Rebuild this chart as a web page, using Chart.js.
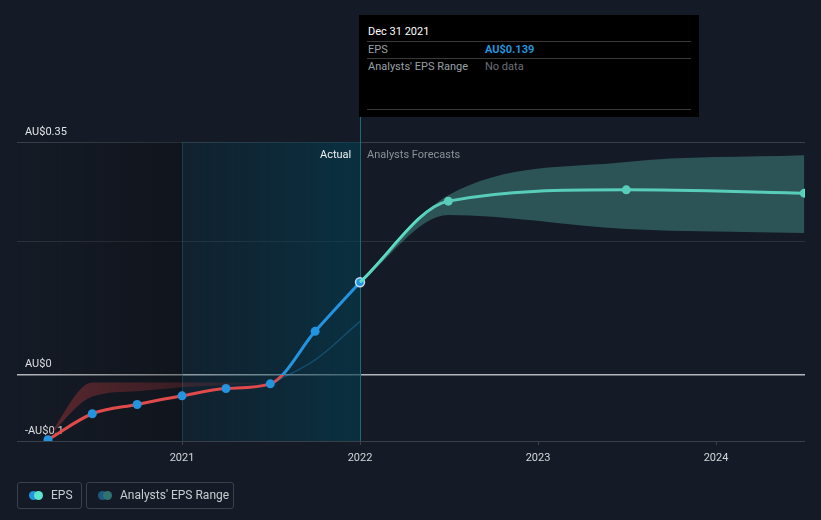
<!DOCTYPE html>
<html>
<head>
<meta charset="utf-8">
<script src="https://cdn.jsdelivr.net/npm/chart.js@4.4.1/dist/chart.umd.min.js"></script>
<style>
html,body{margin:0;padding:0;background:#151b26;width:821px;height:520px;overflow:hidden;font-family:Roboto,"Noto Sans",sans-serif;}
#wrap{position:relative;width:821px;height:520px;}
#c{position:absolute;left:0;top:0;}
.tt{position:absolute;background:#000;width:340px;height:102px;}
.tt div{position:absolute;font-size:11px;line-height:14px;white-space:nowrap;}
.tt .sep{height:1px;background:#3a3a3a;left:8px;width:324px;}
.lbl{position:absolute;font-size:11px;line-height:14px;white-space:nowrap;}
.leg{position:absolute;top:482px;height:25px;border:1px solid #3b414c;border-radius:3px;box-sizing:content-box;}
.leg span.t{position:absolute;top:5px;font-size:12px;line-height:15px;color:#c8ccd1;white-space:nowrap;}
.dot{position:absolute;top:8px;width:9px;height:9px;border-radius:50%;}
</style>
</head>
<body>
<div id="wrap">
<canvas id="c" width="821" height="520"></canvas>
<div class="tt" id="tt">
  <div style="left:9px;top:10px;color:#ffffff;">Dec 31 2021</div>
  <div class="sep" style="top:26px;"></div>
  <div style="left:9px;top:28px;color:#9aa0a7;">EPS</div>
  <div id="ttv" style="left:126px;top:28px;color:#2394df;font-weight:bold;">AU$0.139</div>
  <div class="sep" style="top:43px;"></div>
  <div style="left:9px;top:45px;color:#9aa0a7;">Analysts' EPS Range</div>
  <div style="left:126px;top:45px;color:#6b7077;">No data</div>
  <div class="sep" style="top:94px;"></div>
</div>
<div class="lbl" id="lblActual" style="color:#eef0f2;">Actual</div>
<div class="lbl" id="lblFc" style="color:#8c9198;">Analysts Forecasts</div>
<div class="leg" style="left:17px;width:63px;">
  <span class="dot" style="left:11px;background:#2394df;"></span>
  <span class="dot" style="left:16px;background:#5ee6cc;"></span>
  <span class="t" style="left:33px;">EPS</span>
</div>
<div class="leg" style="left:86px;width:146px;">
  <span class="dot" style="left:11px;background:#1e5a84;"></span>
  <span class="dot" style="left:16px;background:#2f7470;"></span>
  <span class="t" style="left:33px;">Analysts' EPS Range</span>
</div>
</div>
<script>
// ---- data (x values are decimal years) ----
const actualDates   = [2020.247, 2020.496, 2020.748, 2021.0, 2021.247, 2021.496, 2021.748, 2022.0];
const epsActual     = [-0.098, -0.059, -0.045, -0.032, -0.021, -0.014, 0.065, 0.139];
const forecastDates = [2022.0, 2022.496, 2023.496, 2024.496];
const epsForecast   = [0.139, 0.261, 0.278, 0.273];
const rangeHigh     = [0.139, 0.270, 0.320, 0.330];
const rangeLow      = [0.139, 0.240, 0.219, 0.213];
const pastRangeDates = [2020.247, 2020.496, 2020.748, 2021.0, 2021.247, 2021.496];
const pastRangeHigh  = [-0.094, -0.012, -0.012, -0.012, -0.012, -0.013];
const pastRangeLow   = [-0.094, -0.033, -0.025, -0.019, -0.016, -0.014];
const pastPosDates   = [2021.496, 2021.748, 2022.0];
const pastPosLow     = [-0.014, 0.022, 0.080];
const yearTicks  = [2021, 2022, 2023, 2024];
const yTickVals  = [-0.1, 0, 0.2, 0.35];
const yTickLabels = ['-AU$0.1', 'AU$0', '', 'AU$0.35'];
const xMin = 2020.073, xMax = 2024.5, yMin = -0.1, yMax = 0.35;
const splitDate = 2022.0, pastStart = 2021.0;

const BLUE = '#2394df', RED = '#e04a4a', TEAL = '#5ee6cc';
const pts = (xs, ys) => xs.map((x, i) => ({x, y: ys[i]}));

const bgPlugin = {
  id: 'bg',
  beforeDatasetsDraw(chart) {
    const {ctx, chartArea: a, scales: {x}} = chart;
    const x1 = x.getPixelForValue(pastStart), x2 = x.getPixelForValue(splitDate);
    ctx.save();
    let g = ctx.createLinearGradient(a.left, 0, x1, 0);
    g.addColorStop(0, 'rgba(8,10,14,0)');
    g.addColorStop(1, 'rgba(8,10,14,0.35)');
    ctx.fillStyle = g;
    ctx.fillRect(a.left, a.top, x1 - a.left, a.bottom - a.top);
    g = ctx.createLinearGradient(x1, 0, x2, 0);
    g.addColorStop(0, 'rgba(4,58,80,0.2)');
    g.addColorStop(1, 'rgba(4,60,78,0.65)');
    ctx.fillStyle = g;
    ctx.fillRect(x1, a.top, x2 - x1, a.bottom - a.top);
    ctx.fillStyle = 'rgba(30,90,110,0.55)';
    ctx.fillRect(Math.round(x1), a.top, 1, a.bottom - a.top);
    ctx.fillStyle = '#1b6a80';
    ctx.fillRect(Math.round(x2), 15, 1, a.bottom - 15);
    ctx.restore();
  }
};

const posNegColor = (ctx) => {
  const c = ctx.chart; const a = c.chartArea;
  if (!a) return RED;
  const y0 = c.scales.y.getPixelForValue(0);
  const g = c.ctx.createLinearGradient(0, a.top, 0, a.bottom);
  const s = Math.min(1, Math.max(0, (y0 - a.top) / (a.bottom - a.top)));
  g.addColorStop(0, BLUE); g.addColorStop(s, BLUE);
  g.addColorStop(s, RED); g.addColorStop(1, RED);
  return g;
};
const pastFill = (ctx) => {
  const c = ctx.chart; if (!c.chartArea) return 'rgba(200,60,60,0.3)';
  const xs = c.scales.x;
  const g = c.ctx.createLinearGradient(xs.getPixelForValue(pastRangeDates[0]), 0, xs.getPixelForValue(pastRangeDates[pastRangeDates.length - 1]), 0);
  g.addColorStop(0, 'rgba(200,60,60,0.38)');
  g.addColorStop(0.6, 'rgba(200,60,60,0.22)');
  g.addColorStop(1, 'rgba(200,60,60,0.06)');
  return g;
};

const chart = new Chart(document.getElementById('c'), {
  type: 'line',
  data: {
    datasets: [
      { data: pts(pastRangeDates, pastRangeHigh), borderWidth: 0, pointRadius: 0, fill: false, cubicInterpolationMode: 'monotone' },
      { data: pts(pastRangeDates, pastRangeLow), borderWidth: 0, pointRadius: 0, fill: '-1', backgroundColor: pastFill, cubicInterpolationMode: 'monotone' },
      { data: pts(forecastDates, rangeHigh), borderWidth: 0, pointRadius: 0, fill: false, cubicInterpolationMode: 'monotone' },
      { data: pts(forecastDates, rangeLow), borderWidth: 0, pointRadius: 0, fill: '-1', backgroundColor: 'rgba(80,170,160,0.4)', cubicInterpolationMode: 'monotone' },
      { data: pts(pastPosDates, pastPosLow), borderWidth: 1.5, borderColor: 'rgba(35,148,223,0.3)', pointRadius: 0, fill: false, cubicInterpolationMode: 'monotone' },
      { data: pts(forecastDates, epsForecast), borderWidth: 3, borderColor: TEAL, fill: false,
        pointRadius: forecastDates.map((d, i) => i === 0 ? 0 : 4.5), pointBackgroundColor: TEAL, pointBorderWidth: 0,
        cubicInterpolationMode: 'monotone' },
      { data: pts(actualDates, epsActual), borderWidth: 3, borderColor: posNegColor, fill: false,
        pointRadius: 4.5, pointBackgroundColor: BLUE,
        pointBorderColor: actualDates.map((d, i) => i === actualDates.length - 1 ? 'rgba(230,240,250,0.85)' : BLUE),
        pointBorderWidth: actualDates.map((d, i) => i === actualDates.length - 1 ? 1.5 : 0),
        cubicInterpolationMode: 'monotone' }
    ]
  },
  options: {
    responsive: false, animation: false, devicePixelRatio: 1,
    layout: { padding: { left: 17, right: 16, top: 142, bottom: 57 } },
    plugins: { legend: { display: false }, tooltip: { enabled: false } },
    scales: {
      x: {
        type: 'linear', min: xMin, max: xMax,
        afterBuildTicks: s => { s.ticks = yearTicks.map(v => ({value: v})); },
        afterFit: s => { s.height = 22; },
        ticks: { autoSkip: false, maxRotation: 0, color: '#d4d7db', padding: 7, font: { family: 'Roboto', size: 11 }, callback: v => String(v) },
        grid: { drawOnChartArea: false, drawTicks: true, tickLength: 4, color: '#3a404a' },
        border: { display: false }
      },
      y: {
        type: 'linear', min: yMin, max: yMax,
        afterBuildTicks: s => { s.ticks = yTickVals.map(v => ({value: v})); },
        afterFit: s => { s.width = 0; },
        ticks: { mirror: true, padding: 8, labelOffset: -10, color: '#e2e5e8', font: { family: 'Roboto', size: 11 },
          callback: (v) => { const i = yTickVals.findIndex(t => Math.abs(t - v) < 1e-9); return i >= 0 ? yTickLabels[i] : ''; } },
        grid: { drawTicks: false,
          color: c => (c.tick && Math.abs(c.tick.value) < 1e-9) ? '#b3b6bb' : (c.tick && Math.abs(c.tick.value - 0.2) < 1e-9 ? '#2c323c' : '#3a404a'),
          lineWidth: c => (c.tick && Math.abs(c.tick.value) < 1e-9) ? 1.5 : 1 },
        border: { display: false }
      }
    }
  },
  plugins: [bgPlugin]
});

// position overlay labels from the scale
const xs = chart.scales.x, xp = xs.getPixelForValue(splitDate);
const tt = document.getElementById('tt');
tt.style.left = (Math.round(xp) - 1) + 'px'; tt.style.top = '15px';
const la = document.getElementById('lblActual');
la.style.top = '148px'; la.style.left = (xp - 9 - la.offsetWidth) + 'px';
const lf = document.getElementById('lblFc');
lf.style.top = '148px'; lf.style.left = (xp + 7) + 'px';
</script>
</body>
</html>
